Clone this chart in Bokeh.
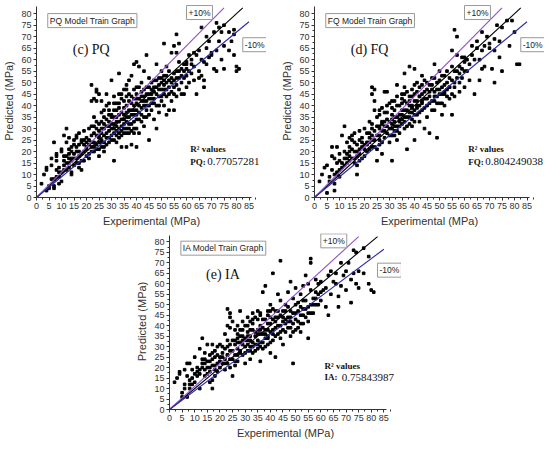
from bokeh.plotting import figure
from bokeh.models import Range1d, FixedTicker, Label, Spacer
from bokeh.layouts import column, row
from bokeh.embed import file_html
from bokeh.resources import INLINE

# ---------------- data ----------------
X_TICKS = list(range(0, 90, 5))
Y_TICKS = list(range(0, 85, 5))

PQ_POINTS = [
    (2,6),(3,10),(4,13),(4,12),(4,3),(5,5),(5,4),
    (6,17),(6,14),(7,8),(7,24),(7,4),(7,5),(8,16),(8,19),(8,12),(8,18),(9,6),(9,13),(10,21),(10,20),(10,7),(9,9),
    (11,27),(11,14),(11,16),(12,15),(12,18),(12,24),(12,30),(13,13),(13,26),(13,21),(13,19),(14,17),(14,22),(14,16),(14,11),(15,25),(15,19),(15,14),(14,10),(13,15),(12,12),(11,18),
    (16,26),(16,22),(16,17),(16,20),(17,28),(17,23),(17,13),(17,15),(18,19),(18,24),(18,25),(18,12),(19,20),(19,23),(19,29),(19,16),(20,18),(20,21),(20,24),(20,26),(15,23),(16,27),
    (21,25),(21,30),(21,19),(22,22),(22,24),(22,49),(22,42),(23,28),(23,43),(23,22),(23,20),(24,47),(24,46),(24,42),(24,33),(24,23),(25,26),(25,29),(25,45),(25,21),(25,24),(25,18),(21,17),(22,31),(23,35),(24,27),(25,32),
    (26,33),(26,42),(26,22),(26,25),(27,30),(27,35),(27,27),(27,20),(28,23),(28,31),(28,45),(28,40),(29,38),(29,26),(29,33),(29,24),(30,27),(30,51),(30,35),(30,30),(30,36),(26,28),(27,24),(28,28),(29,29),
    (31,16),(31,28),(31,44),(31,32),(32,38),(32,24),(32,33),(32,29),(33,54),(33,30),(33,41),(33,26),(33,36),(34,27),(34,43),(34,45),(34,31),(34,22),(35,34),(35,39),(35,47),(35,28),(31,25),(32,35),(33,33),(34,37),(35,30),
    (36,49),(36,37),(36,30),(36,33),(36,22),(37,42),(37,28),(37,45),(37,35),(37,51),(38,53),(38,38),(38,32),(38,23),(39,40),(39,30),(39,47),(39,58),(39,36),(40,41),(40,34),(40,59),(40,22),(40,45),(36,40),(37,32),(38,44),(39,33),(40,38),
    (41,57),(41,43),(41,37),(41,48),(41,28),(42,50),(42,46),(42,39),(42,33),(43,55),(43,44),(43,40),(43,31),(44,48),(44,38),(44,42),(44,62),(45,52),(45,45),(45,36),(45,25),(42,42),(43,47),(44,35),(45,40),
    (46,43),(46,50),(46,38),(47,51),(47,46),(47,34),(48,48),(48,58),(48,40),(48,30),(49,52),(49,44),(49,37),(50,50),(50,47),(50,42),(50,55),(46,47),(47,41),(49,49),
    (51,67),(51,53),(51,45),(51,40),(52,50),(52,44),(52,36),(53,55),(53,48),(53,38),(54,52),(54,46),(54,63),(55,66),(55,54),(55,38),(55,48),(51,49),(52,57),(54,42),
    (56,71),(56,52),(56,44),(57,59),(57,55),(57,47),(58,50),(58,56),(58,45),(59,58),(59,52),(60,58),(60,59),(60,48),(60,53),(56,63),(57,67),(59,45),
    (61,55),(61,50),(62,54),(62,60),(62,58),(63,51),(63,57),(64,45),(64,62),(65,64),(65,55),(65,52),(61,62),(63,63),
    (66,74),(66,53),(67,51),(67,59),(67,48),(68,65),(68,70),(68,58),(69,61),(70,62),(70,63),(66,60),(69,68),
    (71,72),(71,56),(72,55),(72,76),(72,64),(73,74),(73,68),(74,60),(74,72),(75,56),(75,75),(75,66),
    (77,64),(77,72),(78,68),(79,71),(79,73),(80,55),(80,57),(81,56),(79,62),
    (20,22),(21,23),(22,20),(22,27),(23,24),(23,31),(24,30),(24,21),(25,27),(26,30),(26,24),(27,32),(27,22),(28,34),(28,26),(29,31),(29,36),(30,32),(30,25),
    (31,30),(31,35),(31,38),(32,27),(32,31),(32,41),(33,28),(33,39),(34,34),(34,29),(35,36),(35,32),(35,42),(36,35),(36,28),(36,44),(37,38),(37,30),(38,36),(38,41),(38,29),
    (39,38),(39,43),(39,28),(40,36),(40,43),(40,30),(41,40),(41,34),(42,44),(42,36),(43,42),(43,35),(44,45),(44,40),(45,43),(45,48),(46,45),(46,41),(47,48),(47,43),
    (48,45),(48,51),(49,47),(49,40),(50,44),(50,52),(51,47),(51,51),(52,53),(52,47),(53,51),(53,45),(54,50),(55,51),(55,45),(56,55),(56,49),(57,52),(58,53),(59,55),(60,56),
    (14,20),(15,17),(16,15),(17,20),(18,16),(19,25),(17,18),(13,17),(11,12),(10,11),(9,11),(6,8),(8,9),(27,38),(29,41),(26,37),(31,41),(33,45),(36,47),(40,48),
]

FQ_POINTS = [
    (2,7),(3,10),(4,13),(5,14),(5,2),(6,7),(7,22),(7,12),(7,18),(8,3),(8,6),(8,17),(9,22),(9,15),(9,11),(10,19),(10,16),(10,9),
    (11,27),(11,13),(12,31),(12,20),(12,17),(13,24),(13,19),(13,15),(14,26),(14,18),(14,22),(15,21),(15,25),(15,27),(16,28),(16,17),(16,20),
    (17,10),(17,23),(17,14),(18,29),(18,25),(18,19),(19,26),(19,22),(20,30),(20,23),(20,18),(12,14),(14,16),(16,24),(18,21),(19,17),
    (21,28),(21,20),(22,24),(22,33),(22,26),(23,48),(23,45),(23,32),(23,22),(24,47),(24,42),(24,38),(24,25),(25,31),(25,35),(25,21),(25,16),
    (26,27),(26,23),(26,36),(27,32),(27,19),(27,29),(28,37),(28,46),(28,26),(29,46),(29,34),(29,28),(30,24),(30,30),(30,41),(21,24),(23,27),(26,30),(28,31),
    (31,16),(31,34),(31,30),(32,33),(32,29),(32,38),(33,49),(33,31),(33,25),(34,40),(34,36),(34,28),(35,43),(35,32),(35,45),(31,27),(32,31),(33,35),(34,33),(35,38),
    (36,38),(36,30),(36,54),(37,21),(37,41),(37,35),(38,57),(38,44),(38,37),(38,32),(39,40),(39,47),(39,34),(40,45),(40,56),(40,38),(40,25),(36,42),(37,46),(39,37),
    (41,50),(41,42),(41,36),(42,48),(42,40),(42,33),(43,53),(43,45),(43,38),(44,51),(44,43),(44,30),(45,47),(45,40),(45,35),(41,39),(42,44),(43,41),
    (46,28),(46,44),(46,49),(47,52),(47,42),(48,58),(48,46),(48,38),(49,26),(49,50),(49,44),(50,55),(50,47),(50,41),(47,47),(48,42),
    (51,53),(51,36),(51,45),(52,49),(52,40),(53,55),(53,47),(54,52),(54,43),(55,64),(55,57),(55,36),(52,45),(54,48),
    (56,73),(56,48),(56,44),(57,62),(57,55),(57,70),(58,50),(58,57),(59,61),(59,52),(60,59),(60,61),(60,48),(58,46),
    (61,55),(62,51),(62,58),(63,62),(63,66),(64,45),(64,60),(65,65),(65,68),(61,60),
    (66,51),(66,60),(67,56),(67,72),(67,64),(68,57),(68,66),(69,70),(70,65),(70,67),
    (71,56),(72,50),(72,64),(72,69),(73,75),(74,61),(74,68),(75,55),(75,74),
    (77,77),(78,66),(79,77),(80,72),(81,58),(82,58),
    (20,21),(21,23),(22,21),(22,28),(23,25),(23,30),(24,29),(24,22),(25,27),(26,31),(26,25),(27,33),(27,24),(28,33),(28,29),(29,31),(29,37),(30,33),(30,27),
    (31,32),(31,36),(31,39),(32,27),(32,35),(32,42),(33,29),(33,40),(34,34),(34,31),(35,36),(35,34),(35,41),(36,35),(36,33),(36,45),(37,38),(37,31),(38,40),(38,42),(38,35),
    (39,39),(39,44),(39,31),(40,36),(40,42),(40,33),(41,40),(41,46),(42,44),(42,37),(43,42),(43,49),(44,46),(44,39),(45,43),(45,50),(46,46),(46,41),(47,49),(47,38),
    (48,44),(48,52),(49,47),(49,41),(50,45),(50,51),(51,48),(51,41),(52,53),(52,46),(53,50),(53,44),(54,48),(55,51),(55,45),(56,55),(56,50),(57,52),(58,54),(59,56),(60,55),
    (14,20),(15,17),(16,15),(17,20),(18,16),(19,24),(17,18),(13,17),(11,15),(10,12),(9,10),(6,9),(8,10),(27,39),(29,40),(26,38),(31,42),(33,44),(36,48),(40,49),
]

IA_POINTS = [
    (2,13),(3,15),(4,18),(4,17),(5,8),(5,6),(6,12),(6,19),(7,22),(7,16),(7,6),(8,22),(8,14),(8,10),(9,19),(9,15),(10,25),(10,13),
    (11,20),(11,16),(12,29),(12,17),(12,10),(13,34),(13,24),(13,20),(14,27),(14,16),(14,22),(15,31),(15,23),(15,17),
    (16,26),(16,20),(16,13),(17,10),(17,14),(17,31),(17,24),(18,28),(18,21),(18,16),(19,30),(19,22),(19,18),(20,31),(20,25),(20,20),(12,19),(14,19),(16,23),(18,25),
    (21,27),(21,22),(22,24),(22,36),(22,19),(23,48),(23,40),(23,30),(23,22),(24,46),(24,44),(24,39),(24,28),(25,42),(25,33),(25,16),(25,24),(21,30),(23,26),(24,24),
    (26,31),(26,26),(26,21),(27,36),(27,29),(27,23),(28,47),(28,38),(28,32),(29,26),(29,35),(30,30),(30,40),(30,22),(27,26),(28,28),(29,31),(30,34),
    (31,37),(31,33),(31,28),(32,42),(32,30),(32,24),(33,46),(33,38),(33,27),(34,44),(34,35),(34,31),(35,47),(35,33),(35,29),(32,35),(33,32),(35,38),
    (36,40),(36,36),(36,23),(37,56),(37,43),(37,32),(38,59),(38,38),(38,34),(39,45),(39,41),(39,31),(40,50),(40,37),(40,27),(36,32),(37,36),(39,35),
    (41,65),(41,48),(41,43),(41,33),(42,47),(42,39),(42,25),(43,55),(43,44),(43,36),(44,71),(44,52),(44,40),(45,47),(45,42),(45,31),(42,42),(44,37),
    (46,50),(46,37),(47,56),(47,44),(47,39),(48,61),(48,47),(48,35),(49,22),(49,53),(49,41),(50,58),(50,46),(50,38),(46,43),(48,42),
    (51,51),(51,42),(52,55),(52,45),(52,37),(53,59),(53,48),(54,64),(54,52),(54,44),(55,60),(55,34),(55,49),(53,41),
    (56,72),(56,57),(56,70),(57,53),(57,46),(58,62),(58,50),(59,60),(59,55),(60,52),(60,61),(58,56),
    (61,57),(62,58),(62,49),(63,64),(63,45),(64,66),(64,55),(65,61),
    (66,60),(66,65),(67,49),(67,54),(68,59),(68,70),(69,64),(70,66),(70,57),
    (71,70),(72,51),(72,62),(73,65),(73,76),(74,60),(74,75),(75,58),(75,66),
    (77,65),(77,77),(79,60),(79,73),(80,57),(81,56),
    (20,23),(21,25),(22,22),(22,29),(23,26),(23,33),(24,31),(24,20),(25,28),(26,33),(26,23),(27,32),(27,34),(28,35),(28,27),(29,33),(29,38),(30,33),(30,27),
    (31,31),(31,35),(31,40),(32,28),(32,33),(32,38),(33,30),(33,41),(34,37),(34,28),(35,36),(35,31),(35,43),(36,38),(36,30),(36,45),(37,39),(37,29),(38,36),(38,43),(38,30),
    (39,38),(39,47),(39,34),(40,41),(40,44),(40,32),(41,38),(41,36),(42,44),(42,35),(43,40),(43,47),(44,45),(44,34),(45,44),(45,38),(46,47),(46,41),(47,49),(47,42),
    (48,44),(48,39),(49,46),(49,37),(50,43),(50,50),(51,47),(51,39),(52,49),(52,41),(53,52),(53,45),(54,48),(55,46),(55,42),(56,50),(56,46),(57,50),(58,53),(59,50),(60,56),
    (14,24),(15,20),(16,18),(17,21),(18,19),(19,26),(17,27),(13,22),(11,18),(10,17),(9,12),(6,10),(8,12),(27,40),(29,42),(26,38),(31,44),(33,43),(36,46),(40,47),
]

PANELS = [
    ("PQ Model Train Graph", "(c) PQ", "PQ:", "0.77057281"),
    ("FQ Model Train Graph", "(d) FQ", "FQ:", "0.804249038"),
    ("IA Model Train Graph", "(e) IA", "IA:", "0.75843987"),
]

# reference lines: y = x (black), +10 % (purple), -10 % (blue)
LINE_FACTORS = [1.0, 1.1, 0.9]
LINE_ENDS = [82.5, 75.0, 85.0]
LINE_COLORS = ["#000000", "#9050d0", "#2a2aa8"]

SANS = "Liberation Sans"
SERIF = "Liberation Serif"


def make_panel(points, texts, frame_w, frame_h):
    title_txt, tag_txt, key_txt, r2_txt = texts
    p = figure(frame_width=frame_w, frame_height=frame_h, output_backend="svg",
               toolbar_location=None,
               x_range=Range1d(0, 92), y_range=Range1d(0, 84),
               min_border_left=30, min_border_right=0,
               min_border_top=4, min_border_bottom=30)
    p.outline_line_color = None
    p.xgrid.visible = False
    p.ygrid.visible = False
    p.background_fill_color = "white"
    p.border_fill_color = "white"

    p.xaxis.ticker = FixedTicker(ticks=X_TICKS, minor_ticks=[t + 2.5 for t in X_TICKS])
    p.yaxis.ticker = FixedTicker(ticks=Y_TICKS, minor_ticks=[t + 2.5 for t in Y_TICKS[:-1]])
    p.xaxis.bounds = (0, 86)
    p.yaxis.bounds = (0, 83)
    p.xaxis.axis_label = "Experimental (MPa)"
    p.yaxis.axis_label = "Predicted (MPa)"
    for ax in (p.xaxis, p.yaxis):
        ax.axis_label_text_font = SANS
        ax.axis_label_text_font_style = "normal"
        ax.axis_label_text_font_size = "11px"
        ax.axis_label_text_color = "#333333"
        ax.axis_label_standoff = 3
        ax.major_label_text_font = SANS
        ax.major_label_text_font_size = "9px"
        ax.major_label_text_color = "#333333"
        ax.major_label_standoff = 2
        ax.major_tick_out = 3
        ax.major_tick_in = 0
        ax.minor_tick_out = 2
        ax.minor_tick_in = 0
        ax.axis_line_color = "#333333"
        ax.major_tick_line_color = "#333333"
        ax.minor_tick_line_color = "#333333"

    xs = [pt[0] for pt in points]
    ys = [pt[1] for pt in points]
    p.scatter(xs, ys, marker="square", size=2.6, color="black")

    for f, end, c in zip(LINE_FACTORS, LINE_ENDS, LINE_COLORS):
        p.line([0, end], [0, end * f], line_color=c, line_width=1.1)

    box = dict(text_font=SANS, text_font_size="8.5px", text_color="#222222",
               text_baseline="middle", text_align="left",
               border_line_color="#999999", border_line_width=1,
               background_fill_color="white", padding=2)
    p.add_layout(Label(x=4.5, y=77, text=title_txt, **box))
    p.add_layout(Label(x=60, y=80.5, text="+10%", **box))
    p.add_layout(Label(x=82.5, y=66.5, text="-10%", **box))

    p.add_layout(Label(x=14.5, y=64.5, text=tag_txt, text_font=SERIF,
                       text_font_size="14px", text_color="#111111",
                       text_baseline="middle", text_align="left"))
    p.add_layout(Label(x=61.5, y=21, text="R² values", text_font=SERIF,
                       text_font_size="9px", text_font_style="bold",
                       text_color="#111111", text_baseline="middle"))
    p.add_layout(Label(x=61.5, y=15.5, text=key_txt, text_font=SERIF,
                       text_font_size="9px", text_font_style="bold",
                       text_color="#111111", text_baseline="middle"))
    p.add_layout(Label(x=68.3, y=15.5, text=r2_txt, text_font=SERIF,
                       text_font_size="11px", text_color="#111111",
                       text_baseline="middle"))
    return p


pc = make_panel(PQ_POINTS, PANELS[0], 230, 193)
pd_ = make_panel(FQ_POINTS, PANELS[1], 230, 193)
pe = make_panel(IA_POINTS, PANELS[2], 232, 176)

layout = column(row(pc, Spacer(width=12, height=10), pd_),
                row(Spacer(width=133, height=10), pe))

open("out.html", "w").write(file_html(layout, INLINE))
